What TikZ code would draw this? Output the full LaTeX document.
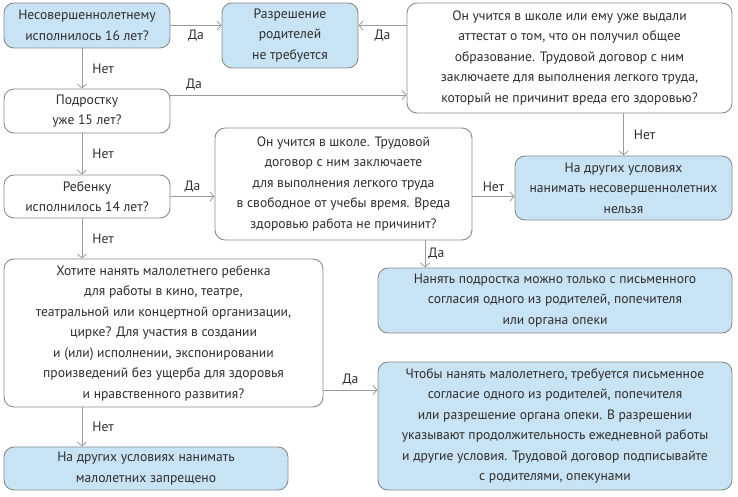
\documentclass[tikz,border=0pt]{standalone}
\usepackage{fontspec}
\setmainfont{PT Sans}
\usetikzlibrary{arrows.meta,calc}
\definecolor{boxblue}{HTML}{C8E3F4}
\definecolor{boxline}{HTML}{8A8A8A}
\definecolor{txt}{HTML}{2E2E2E}
\definecolor{arr}{HTML}{9A9A9A}
\tikzset{
  base/.style={draw=boxline, line width=0.9pt, rounded corners=10pt, align=center,
    text=txt, font=\fontsize{13.6}{20.5}\selectfont, inner sep=0pt},
  bluebox/.style={base, fill=boxblue},
  whitebox/.style={base, fill=white},
  conn/.style={draw=arr, line width=0.8pt, -{Straight Barb[length=4pt,width=9pt]}},
  lab/.style={text=txt, font=\fontsize{13.6}{15}\selectfont, inner sep=1pt}
}
\begin{document}
\begin{tikzpicture}[x=1pt,y=-1pt]
\useasboundingbox (0,0) rectangle (738,497);
\node[bluebox, minimum width=166pt, minimum height=45pt] (A) at (87,25.5) {Несовершеннолетнему\\исполнилось 16 лет?};
\node[bluebox, minimum width=136pt, minimum height=65pt] (B) at (290,35.5) {Разрешение\\родителей\\не требуется};
\node[whitebox, minimum width=325pt, minimum height=110pt] (C) at (569.5,58) {Он учится в школе или ему уже выдали\\аттестат о том, что он получил общее\\образование. Трудовой договор с ним\\заключаете для выполнения легкого труда,\\который не причинит вреда его здоровью?};
\node[whitebox, minimum width=166pt, minimum height=44pt] (D) at (87,111) {Подростку\\уже 15 лет?};
\node[whitebox, minimum width=166pt, minimum height=43pt] (E) at (87,196.5) {Ребенку\\исполнилось 14 лет?};
\node[whitebox, minimum width=257pt, minimum height=112pt] (F) at (343.5,184) {Он учится в школе. Трудовой\\договор с ним заключаете\\для выполнения легкого труда\\в свободное от учебы время. Вреда\\здоровью работа не причинит?};
\node[bluebox, minimum width=217pt, minimum height=64pt] (G) at (623.5,188) {На других условиях\\нанимать несовершеннолетних\\нельзя};
\node[whitebox, minimum width=319pt, minimum height=148pt] (H) at (163.5,333) {Хотите нанять малолетнего ребенка\\для работы в кино, театре,\\театральной или концертной организации,\\цирке? Для участия в создании\\и (или) исполнении, экспонировании\\произведений без ущерба для здоровья\\и нравственного развития?};
\node[bluebox, minimum width=354pt, minimum height=65pt] (I) at (555,300.5) {Нанять подростка можно только с письменного\\согласия одного из родителей, попечителя\\или органа опеки};
\node[bluebox, minimum width=354pt, minimum height=128pt] (J) at (555,426) {Чтобы нанять малолетнего, требуется письменное\\согласие одного из родителей, попечителя\\или разрешение органа опеки. В разрешении\\указывают продолжительность ежедневной работы\\и другие условия. Трудовой договор подписывайте\\с родителями, опекунами};
\node[bluebox, minimum width=284pt, minimum height=43pt] (K) at (146,468.5) {На других условиях нанимать\\малолетних запрещено};

\coordinate (vx) at (82,0);
\coordinate (dc) at (0,95);
\coordinate (fx) at (425,0);
\coordinate (hy) at (0,390);

\draw[conn] (A.east) -- node[lab, below=3pt] {Да} (B.west |- A.east);
\draw[conn] (C.west |- A.east) -- node[lab, below=3pt] {Да} (B.east |- A.east);
\draw[conn] (A.south -| vx) -- node[lab, right=9pt] {Нет} (D.north -| vx);
\draw[conn] (D.east |- dc) -- node[lab, pos=0.1, above=3pt] {Да} (C.west |- dc);
\draw[conn] (D.south -| vx) -- node[lab, right=9pt] {Нет} (E.north -| vx);
\draw[conn] (E.east) -- node[lab, above=3pt] {Да} (F.west |- E.east);
\draw[conn] (F.east |- E.east) -- node[lab, above=3pt] {Нет} (G.west |- E.east);
\draw[conn] (C.south -| G.north) -- node[lab, right=9pt] {Нет} (G.north);
\draw[conn] (F.south -| fx) -- node[lab, right=2pt] {Да} (I.north -| fx);
\draw[conn] (E.south -| vx) -- node[lab, right=9pt] {Нет} (H.north -| vx);
\draw[conn] (H.east |- hy) -- node[lab, above=3pt] {Да} (J.west |- hy);
\draw[conn] (H.south -| vx) -- node[lab, right=9pt] {Нет} (K.north -| vx);
\end{tikzpicture}
\end{document}
